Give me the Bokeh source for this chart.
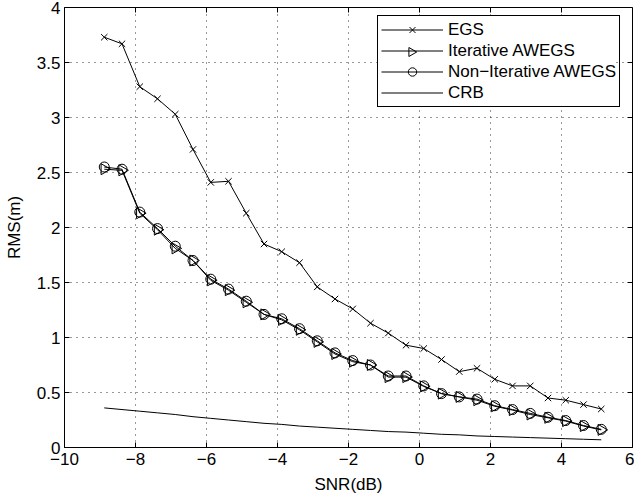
import math
from bokeh.plotting import figure
from bokeh.models import (Range1d, FixedTicker, Legend, LegendItem,
                          CustomJSTickFormatter)
from bokeh.embed import file_html
from bokeh.resources import INLINE

# SNR values (dB)
snr = [-8.88, -8.38, -7.88, -7.38, -6.88, -6.38, -5.88, -5.38, -4.88, -4.38,
       -3.88, -3.38, -2.88, -2.38, -1.88, -1.38, -0.88, -0.38, 0.12, 0.62,
       1.12, 1.62, 2.12, 2.62, 3.12, 3.62, 4.12, 4.62, 5.12]

egs = [3.73, 3.67, 3.28, 3.17, 3.03, 2.71, 2.41, 2.42, 2.13, 1.85,
       1.78, 1.68, 1.46, 1.35, 1.26, 1.13, 1.04, 0.93, 0.90, 0.80,
       0.69, 0.72, 0.62, 0.56, 0.56, 0.45, 0.43, 0.39, 0.35]

iter_awegs = [2.53, 2.52, 2.13, 1.98, 1.81, 1.70, 1.52, 1.43, 1.32, 1.21,
              1.16, 1.07, 0.96, 0.85, 0.78, 0.75, 0.64, 0.64, 0.555, 0.49,
              0.46, 0.43, 0.375, 0.34, 0.30, 0.27, 0.24, 0.195, 0.16]

noniter_awegs = [2.55, 2.53, 2.14, 1.99, 1.83, 1.70, 1.53, 1.44, 1.33, 1.21,
                 1.17, 1.08, 0.97, 0.86, 0.79, 0.75, 0.65, 0.65, 0.56, 0.49,
                 0.46, 0.44, 0.38, 0.345, 0.31, 0.275, 0.245, 0.20, 0.165]

crb = [0.36, 0.345, 0.33, 0.315, 0.30, 0.28, 0.265, 0.25, 0.235, 0.22,
       0.21, 0.195, 0.185, 0.175, 0.165, 0.155, 0.145, 0.14, 0.13, 0.12,
       0.115, 0.105, 0.10, 0.095, 0.09, 0.085, 0.08, 0.075, 0.07]

x_ticks = [-10, -8, -6, -4, -2, 0, 2, 4, 6]
y_ticks = [0, 0.5, 1, 1.5, 2, 2.5, 3, 3.5, 4]
X_MIN, X_MAX = -10, 6
Y_MIN, Y_MAX = 0, 4

FONT = "Liberation Sans"
FS = "17px"

W, H = 634, 496
BL, BR, BT, BB = 64, 2, 7, 49
FRAME_W, FRAME_H = W - BL - BR, H - BT - BB


def px_to_x(px):
    return X_MIN + px / FRAME_W * (X_MAX - X_MIN)


def px_to_y(py):
    return Y_MIN + py / FRAME_H * (Y_MAX - Y_MIN)


p = figure(width=W, height=H, output_backend="svg", toolbar_location=None,
           x_range=Range1d(X_MIN, X_MAX), y_range=Range1d(Y_MIN, Y_MAX),
           min_border_left=BL, min_border_right=BR, min_border_top=BT,
           min_border_bottom=BB, background_fill_color="white",
           border_fill_color="white")

p.outline_line_color = "black"
p.outline_line_alpha = 1
p.outline_line_width = 1

fmt = CustomJSTickFormatter(code="""
var s = Number(tick.toFixed(2)).toString();
return s.replace('-', '\u2212');
""")

for ax in [p.xaxis[0], p.yaxis[0]]:
    ax.major_tick_in = 5
    ax.major_tick_out = 0
    ax.minor_tick_line_color = None
    ax.axis_line_color = "black"
    ax.major_tick_line_color = "black"
    ax.major_label_text_font = FONT
    ax.major_label_text_font_size = FS
    ax.major_label_text_color = "black"
    ax.axis_label_text_font = FONT
    ax.axis_label_text_font_size = FS
    ax.axis_label_text_font_style = "normal"
    ax.axis_label_text_color = "black"
    ax.formatter = fmt

p.xaxis[0].ticker = FixedTicker(ticks=x_ticks)
p.yaxis[0].ticker = FixedTicker(ticks=y_ticks)
p.xaxis[0].axis_label = "SNR(dB)"
p.yaxis[0].axis_label = "RMS(m)"
p.xaxis[0].major_label_standoff = 5
p.yaxis[0].major_label_standoff = 4
p.xaxis[0].axis_label_standoff = 7
p.yaxis[0].axis_label_standoff = 10

# top and right inward tick marks (box style)
p.ray(x=x_ticks, y=[Y_MAX] * len(x_ticks), length=5, length_units="screen",
      angle=-math.pi / 2, line_color="black", line_width=1)
p.ray(x=[X_MAX] * len(y_ticks), y=y_ticks, length=5, length_units="screen",
      angle=math.pi, line_color="black", line_width=1)

for g in [p.xgrid[0], p.ygrid[0]]:
    g.grid_line_color = "black"
    g.grid_line_alpha = 0.8
    g.grid_line_dash = "1 5"
    g.grid_line_width = 1
p.xgrid[0].ticker = FixedTicker(ticks=x_ticks)
p.ygrid[0].ticker = FixedTicker(ticks=y_ticks)

# legend layout (px from frame bottom-left)
LEG_X, LEG_Y = 313, 340
PAD, GW, ROW = 3, 62, 21
LEG_W, LEG_H = 238, 4 * ROW + 2 * PAD

# white backing for the (transparent) legend box, hides the grid beneath
p.quad(left=[px_to_x(LEG_X)], right=[px_to_x(LEG_X + LEG_W)],
       bottom=[px_to_y(LEG_Y)], top=[px_to_y(LEG_Y + LEG_H)],
       fill_color="white", line_color=None)

l1 = p.line(snr, egs, line_color="black", line_width=1)
m1 = p.scatter(snr, egs, marker="x", size=9, line_color="black", line_width=1)

l2 = p.line(snr, iter_awegs, line_color="black", line_width=1)
m2 = p.scatter(snr, iter_awegs, marker="triangle", size=11,
               angle=-math.pi / 2, line_color="black", fill_color=None,
               line_width=1)

l3 = p.line(snr, noniter_awegs, line_color="black", line_width=1)
m3 = p.scatter(snr, noniter_awegs, marker="circle", size=10,
               line_color="black", fill_color=None, line_width=1)

l4 = p.line(snr, crb, line_color="black", line_width=1)

legend = Legend(items=[
    LegendItem(label="EGS", renderers=[l1, m1]),
    LegendItem(label="Iterative AWEGS", renderers=[l2]),
    LegendItem(label="Non\u2212Iterative AWEGS", renderers=[l3, m3]),
    LegendItem(label="CRB", renderers=[l4]),
], location=(LEG_X, LEG_Y))
legend.label_text_font = FONT
legend.label_text_font_size = FS
legend.label_text_color = "black"
legend.border_line_color = "black"
legend.border_line_alpha = 1
legend.border_line_width = 1
legend.background_fill_alpha = 0
legend.glyph_width = GW
legend.glyph_height = ROW
legend.label_height = ROW
legend.label_standoff = 5
legend.spacing = 0
legend.padding = PAD
legend.margin = 0
p.add_layout(legend, "center")

# right-pointing triangle key for the "Iterative AWEGS" legend entry
p.scatter([px_to_x(LEG_X + PAD + GW / 2)],
          [px_to_y(LEG_Y + PAD + 2 * ROW + ROW / 2)],
          marker="triangle", size=9, angle=-math.pi / 2,
          line_color="black", fill_color=None, line_width=1)

open("out.html", "w").write(file_html(p, INLINE))
